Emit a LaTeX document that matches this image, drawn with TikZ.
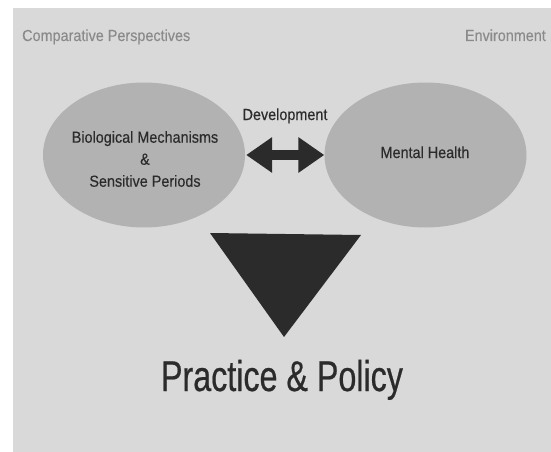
\documentclass[tikz,border=0pt]{standalone}
\usepackage{fontspec}
\setmainfont{Liberation Sans}
\newfontfamily\labfont[FakeStretch=0.9,FakeBold=0.35]{Liberation Sans}
\newfontfamily\cornerfont[FakeStretch=0.9,FakeBold=0.2]{Liberation Sans}
\newfontfamily\titlefont[FakeStretch=0.75,FakeBold=0.5]{Liberation Sans}
\usetikzlibrary{shapes.geometric,arrows.meta}
\definecolor{bgc}{HTML}{D9D9D9}
\definecolor{ellc}{HTML}{B2B2B2}
\definecolor{darkc}{HTML}{2B2B2B}
\definecolor{lightt}{HTML}{8A8A8A}
\tikzset{
  blob/.style={ellipse, fill=ellc, minimum width=202pt, minimum height=145pt, inner sep=0pt},
  txt/.style={text=darkc, font=\labfont\fontsize{16}{22}\selectfont, inner sep=0pt, align=center},
  corner/.style={text=lightt, font=\cornerfont\fontsize{16}{20}\selectfont, inner sep=0pt, anchor=base},
  dbl/.style={draw=darkc, line width=10.5pt, {Triangle[length=26pt,width=34pt]}-{Triangle[length=26pt,width=34pt]}, shorten <=1pt, shorten >=0pt},
  title/.style={text=darkc, font=\titlefont\fontsize{43}{50}\selectfont, inner sep=0pt, anchor=base}
}
\begin{document}
\begin{tikzpicture}[x=1pt,y=-1pt]
\useasboundingbox (0,0) rectangle (551,452);
\fill[white] (0,0) rectangle (551,452);
\fill[bgc] (13,8) rectangle (551,452);
\node[corner, anchor=base west] (cp) at (22,41) {Comparative Perspectives};
\node[corner, anchor=base east] (env) at (546,41) {Environment};
\node[blob] (L) at (144,155) {};
\node[blob] (R) at (425.5,155) {};
\node[txt] (bio) at (145,159) {Biological Mechanisms\\ \&\\ Sensitive Periods};
\node[txt, anchor=base] (mh) at (425,158) {Mental Health};
\node[txt, anchor=base] (dev) at (285,120) {Development};
\draw[dbl] (L.east) -- (R.west);
\fill[darkc] (210,233) -- (361,235) -- (284,337) -- cycle;
\node[title] (pp) at (282,391) {Practice \& Policy};
\end{tikzpicture}
\end{document}
